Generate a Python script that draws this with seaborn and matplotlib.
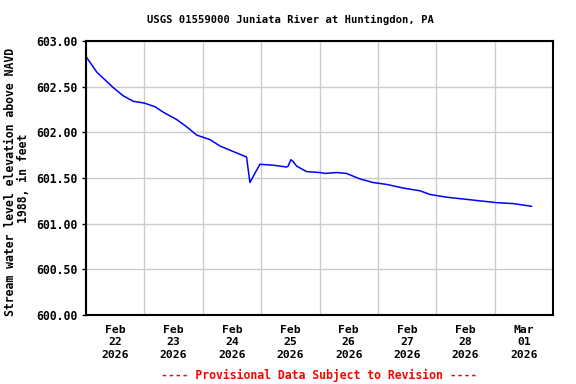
import pandas as pd
import seaborn as sns
import matplotlib.pyplot as plt
import matplotlib.dates as mdates

# readings, hours after 2026-02-22 00:00 and gage height (ft above NAVD88)
hours = [0.0, 4.4, 11.2, 15.3, 19.4, 24.0, 28.4, 31.8, 37.3, 41.4, 45.5,
         51.0, 55.1, 60.5, 66.0, 66.7, 67.4, 68.8, 71.5, 77.0, 82.5, 83.1,
         84.2, 85.2, 86.6, 90.7, 96.2, 98.2, 103.0, 107.1, 112.6, 118.1,
         123.6, 130.4, 137.3, 141.4, 148.2, 155.1, 161.9, 168.8, 175.6, 183.2]
stage = [602.83, 602.66, 602.49, 602.40, 602.34, 602.32, 602.28, 602.22,
         602.14, 602.06, 601.97, 601.92, 601.85, 601.79, 601.73, 601.59,
         601.45, 601.52, 601.65, 601.64, 601.62, 601.63, 601.70, 601.68,
         601.63, 601.57, 601.56, 601.55, 601.56, 601.55, 601.49, 601.45,
         601.43, 601.39, 601.36, 601.32, 601.29, 601.27, 601.25, 601.23,
         601.22, 601.19]
y_ticks = [600.0, 600.5, 601.0, 601.5, 602.0, 602.5, 603.0]
day_labels = ["Feb\n22\n2026", "Feb\n23\n2026", "Feb\n24\n2026", "Feb\n25\n2026",
              "Feb\n26\n2026", "Feb\n27\n2026", "Feb\n28\n2026", "Mar\n01\n2026"]

start = pd.Timestamp("2026-02-22")
df = pd.DataFrame({"time": start + pd.to_timedelta(hours, unit="h"), "stage": stage})

sns.set_theme(style="whitegrid")
plt.rcParams["font.family"] = ["DejaVu Sans Mono"]
plt.rcParams["font.weight"] = "bold"
plt.rcParams["text.color"] = "black"
plt.rcParams["xtick.color"] = "black"
plt.rcParams["ytick.color"] = "black"
plt.rcParams["axes.labelcolor"] = "black"

fig = plt.figure(figsize=(5.76, 3.84), dpi=100)
ax = fig.add_axes([86 / 576, 1 - 315 / 384, 467 / 576, 274 / 384])

sns.lineplot(data=df, x="time", y="stage", color="#0000ff", linewidth=1.1, ax=ax)

ax.set_xlim(start, start + pd.Timedelta(days=8))
ax.set_ylim(600, 603)
ax.set_yticks(y_ticks)
ax.set_yticklabels([f"{v:.2f}" for v in y_ticks], fontsize=8.3, fontweight="bold")

ax.xaxis.set_major_locator(mdates.DayLocator())
ax.xaxis.set_major_formatter(plt.NullFormatter())
noon = [start + pd.Timedelta(hours=12 + 24 * i) for i in range(8)]
ax.set_xticks(noon, minor=True)
ax.set_xticklabels(day_labels, minor=True, fontsize=8.2, fontweight="bold", linespacing=1.3)
ax.tick_params(axis="x", which="major", length=0)
ax.tick_params(axis="x", which="minor", length=0, pad=7)
ax.tick_params(axis="y", length=3, width=1, color="black", left=True, pad=3)
ax.grid(True, which="major", color="#cccccc", linewidth=1)
ax.grid(False, which="minor")

for s in ax.spines.values():
    s.set_color("black")
    s.set_linewidth(1.5)

ax.set_xlabel("")
ax.set_ylabel("")
fig.text(11 / 576, 1 - 182 / 384, "Stream water level elevation above NAVD",
         rotation=90, ha="center", va="center", fontsize=8.3, fontweight="bold")
fig.text(24 / 576, 1 - 178 / 384, "1988, in feet",
         rotation=90, ha="center", va="center", fontsize=8.3, fontweight="bold")

fig.text(290 / 576, 1 - 20 / 384, "USGS 01559000 Juniata River at Huntingdon, PA",
         ha="center", va="center", fontsize=7.6, fontweight="bold")
fig.text(319 / 576, 1 - 375 / 384, "---- Provisional Data Subject to Revision ----",
         ha="center", va="center", fontsize=8.3, fontweight="bold", color="#ff0000")

fig.savefig("out.png", dpi=100)
